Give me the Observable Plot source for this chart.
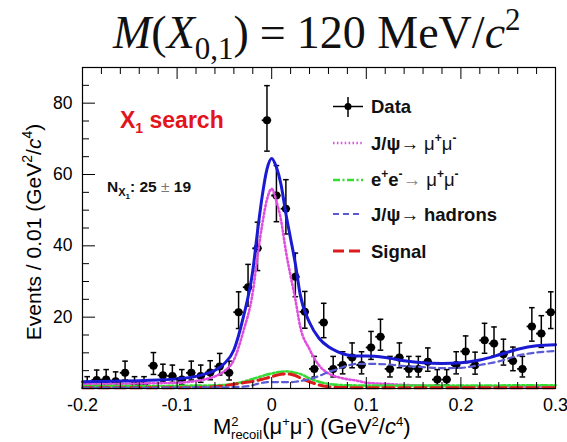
<!DOCTYPE html>
<html><head><meta charset="utf-8">
<script src="https://cdn.jsdelivr.net/npm/d3@7"></script>
<script src="https://cdn.jsdelivr.net/npm/@observablehq/plot@0.6"></script>
<style>
body{margin:0;background:#fff;}
#chart{width:567px;height:442px;}
</style>
</head><body><div id="chart"></div>
<script>
// ---- data ----
const binX = [-0.195,-0.185,-0.175,-0.165,-0.155,-0.145,-0.135,-0.125,-0.115,-0.105,
  -0.095,-0.085,-0.075,-0.065,-0.055,-0.045,-0.035,-0.025,-0.015,-0.005,
  0.005,0.015,0.025,0.035,0.045,0.055,0.065,0.075,0.085,0.095,
  0.105,0.115,0.125,0.135,0.145,0.155,0.165,0.175,0.185,0.195,
  0.205,0.215,0.225,0.235,0.245,0.255,0.265,0.275,0.285,0.295];
const counts = [1,2.4,2.5,2,4.4,1,1,6.4,3.7,3.5,
  2.5,4.4,3.5,4.5,6.2,4.4,21.4,28.4,39.3,75.2,
  54.1,50.4,31.3,21.5,5.5,18.5,5.5,6.6,8.7,6.6,
  11.5,14.5,5.5,8.7,5.5,5.5,7.5,2.5,2.5,6.6,
  10.4,6.5,13.5,12.6,9.6,7.7,5.5,17.4,15.4,21.4];
const binHalfWidth = 0.005;

const curveX = [-0.2,-0.17,-0.14,-0.12,-0.1,-0.08,-0.07,-0.06,-0.05,-0.04,-0.03,-0.02,-0.015,-0.01,-0.005,
  0,0.005,0.01,0.015,0.02,0.025,0.03,0.04,0.05,0.06,0.07,0.08,0.09,0.1,0.12,0.14,0.16,0.18,0.2,0.22,0.24,0.26,0.28,0.3];
const totalFit = [1.9,2.0,2.2,2.4,2.7,3.4,4.1,5.1,7.0,10.8,20,33,44,54,61.5,
  64.5,62,57,49,42,35,26.5,18.5,14.1,11.7,10.3,9.4,9.1,9.1,8.7,7.8,7.2,7.0,7.2,8.0,9.4,11.0,12.0,12.3];
const jpsiMuMu = [1.2,1.3,1.4,1.5,1.6,2.1,2.6,3.4,4.9,8.0,16,27,37,46,53,
  56,52.5,47,38.5,31.5,25,17.5,11,6.5,4.2,3.2,2.6,2.2,1.6,1.3,1.0,0.8,0.7,0.6,0.6,0.6,0.6,0.6,0.6];
const eeMuMu = [0.7,0.7,0.7,0.7,0.75,0.8,0.8,0.9,1.0,1.3,1.9,2.7,3.1,3.5,3.9,
  4.2,4.5,4.7,4.8,4.7,4.4,4.1,2.8,1.9,1.3,1.0,0.9,0.85,0.8,0.8,0.8,0.8,0.8,0.8,0.85,0.85,0.9,0.9,0.9];
const jpsiHadrons = [0.2,0.2,0.2,0.2,0.25,0.3,0.3,0.3,0.3,0.4,0.5,0.9,1.3,1.6,1.8,
  1.8,1.8,1.8,1.8,1.8,1.9,2.1,2.6,3.5,4.6,5.5,6.4,6.9,6.9,6.8,6.3,6.0,5.7,5.8,6.6,7.6,9.2,10.1,10.5];
const signalFit = [0.2,0.2,0.2,0.2,0.2,0.25,0.35,0.5,0.8,1.2,1.6,2.0,2.3,2.6,2.95,
  3.3,3.7,4.0,4.1,4.0,3.6,3.0,1.9,1.0,0.5,0.3,0.25,0.2,0.2,0.2,0.2,0.2,0.2,0.2,0.2,0.2,0.2,0.2,0.2];

const xTicksMajor = [-0.2,-0.1,0,0.1,0.2,0.3];
const xTickLabels = ["-0.2","-0.1","0","0.1","0.2","0.3"];
const xTicksMinor = [-0.18,-0.16,-0.14,-0.12,-0.08,-0.06,-0.04,-0.02,0.02,0.04,0.06,0.08,0.12,0.14,0.16,0.18,0.22,0.24,0.26,0.28];
const yTicksMajor = [0,20,40,60,80];
const yLabelTicks = [20,40,60,80];
const yTicksMinor = [5,10,15,25,30,35,45,50,55,65,70,75,85];

// ---- colours / styles ----
const C = {total:"#1a1ad2", jpsi:"#e04ee0", ee:"#34dc34", had:"#5a5ad4", sig:"#dc1c1c"};
const DASH = {jpsi:"1.5,2.4", ee:"7,2.5,2,2.5", had:"6,4", sig:"11,5"};

// Poisson (Garwood, Gehrels approx) error limits
const points = binX.map((x,i) => {
  const n = counts[i];
  const lo = n * Math.pow(1 - 1/(9*n) - 1/(3*Math.sqrt(n)), 3);
  const hi = n + Math.sqrt(n + 0.75) + 1;
  return {x, n, lo, hi, x1: x - binHalfWidth, x2: x + binHalfWidth};
});

const capSymbol = {draw(ctx, size){ const w = Math.sqrt(size/Math.PI); ctx.moveTo(-w,0); ctx.lineTo(w,0); }};

const svg = Plot.plot({
  width: 567, height: 442,
  marginLeft: 82, marginRight: 12, marginTop: 67, marginBottom: 54,
  x: {domain: [-0.2, 0.3], axis: null},
  y: {domain: [0, 90], axis: null},
  style: {fontFamily: "'Liberation Sans', Arial, sans-serif", background: "white", color: "black", overflow: "visible"},
  marks: [
    // data points
    Plot.ruleX(points, {x: "x", y1: "lo", y2: "hi", stroke: "black", strokeWidth: 1.5}),
    Plot.ruleY(points, {y: "n", x1: "x1", x2: "x2", stroke: "black", strokeWidth: 1.8}),
    Plot.dot(points, {x: "x", y: "hi", symbol: capSymbol, r: 2.8, stroke: "black", strokeWidth: 1.5, fill: "none"}),
    Plot.dot(points, {x: "x", y: "lo", symbol: capSymbol, r: 2.8, stroke: "black", strokeWidth: 1.5, fill: "none"}),
    Plot.dot(points, {x: "x", y: "n", r: 4, fill: "black", stroke: "none"}),
    // fit components
    Plot.line(curveX, {x: curveX, y: jpsiMuMu, curve: "monotone-x", stroke: C.jpsi, strokeWidth: 2.6, strokeDasharray: DASH.jpsi}),
    Plot.line(curveX, {x: curveX, y: eeMuMu, curve: "monotone-x", stroke: C.ee, strokeWidth: 2.6, strokeDasharray: DASH.ee}),
    Plot.line(curveX, {x: curveX, y: signalFit, curve: "monotone-x", stroke: C.sig, strokeWidth: 3, strokeDasharray: DASH.sig}),
    Plot.line(curveX, {x: curveX, y: jpsiHadrons, curve: "monotone-x", stroke: C.had, strokeWidth: 2.2, strokeDasharray: DASH.had}),
    Plot.line(curveX, {x: curveX, y: totalFit, curve: "monotone-x", stroke: C.total, strokeWidth: 3}),
    // frame and inward ticks
    Plot.frame({stroke: "black", strokeWidth: 1.2}),
    Plot.axisX(xTicksMajor, {anchor: "bottom", tickSize: -11, tickFormat: () => ""}),
    Plot.axisX(xTicksMinor, {anchor: "bottom", tickSize: -6, tickFormat: () => ""}),
    Plot.axisX(xTicksMajor, {anchor: "top", tickSize: -11, tickFormat: () => ""}),
    Plot.axisX(xTicksMinor, {anchor: "top", tickSize: -6, tickFormat: () => ""}),
    Plot.axisY(yTicksMajor, {anchor: "left", tickSize: -13, tickFormat: () => ""}),
    Plot.axisY(yTicksMinor, {anchor: "left", tickSize: -7, tickFormat: () => ""}),
    // tick labels
    Plot.axisX(xTicksMajor, {anchor: "bottom", tickSize: 0, tickPadding: 10, fontSize: 18, tickFormat: d => xTickLabels[xTicksMajor.indexOf(d)], label: null}),
    Plot.axisY(yLabelTicks, {anchor: "left", tickSize: 0, tickPadding: 10, fontSize: 17.5, tickFormat: d => String(d), label: null})
  ]
});
document.getElementById("chart").appendChild(svg);

// ---- texts and legend ----
const g = d3.select(svg).append("g").attr("text-anchor", "start");
const sans = "'Liberation Sans', Arial, sans-serif";

// title
const t = g.append("text").attr("x", 113).attr("y", 48)
  .attr("font-family", "'Liberation Serif', 'Times New Roman', serif").attr("font-size", 46).attr("fill", "#111");
t.append("tspan").attr("font-style", "italic").text("M");
t.append("tspan").text("(");
t.append("tspan").attr("font-style", "italic").text("X");
t.append("tspan").attr("font-size", 31).attr("dy", 11).text("0,1");
t.append("tspan").attr("dy", -11).text(")");
t.append("tspan").attr("dx", 11).text("=");
t.append("tspan").attr("dx", 11).text("120 MeV/");
t.append("tspan").attr("font-style", "italic").text("c");
t.append("tspan").attr("font-size", 31).attr("dy", -18).text("2");

// x-axis label (superscript 2 stacked over subscript "recoil")
const xl = g.append("text").attr("x", 213).attr("y", 434).attr("font-family", sans).attr("font-size", 22);
xl.append("tspan").text("M");
xl.append("tspan").attr("font-size", 13).attr("dy", -8).text("2");
xl.append("tspan").attr("font-size", 13).attr("dx", -7.5).attr("dy", 13).text("recoil");
xl.append("tspan").attr("dy", -5).text("(μ");
xl.append("tspan").attr("font-size", 13).attr("dy", -8).text("+");
xl.append("tspan").attr("dy", 8).text("μ");
xl.append("tspan").attr("font-size", 13).attr("dy", -8).text("-");
xl.append("tspan").attr("dy", 8).text(") (GeV");
xl.append("tspan").attr("font-size", 13).attr("dy", -8).text("2");
xl.append("tspan").attr("dy", 8).text("/");
xl.append("tspan").attr("font-style", "italic").text("c");
xl.append("tspan").attr("font-size", 13).attr("dy", -8).text("4");
xl.append("tspan").attr("dy", 8).text(")");

// y-axis label
const yl = g.append("text").attr("transform", "translate(41,232) rotate(-90)").attr("text-anchor", "middle")
  .attr("font-family", sans).attr("font-size", 21);
yl.append("tspan").text("Events / 0.01 (GeV");
yl.append("tspan").attr("font-size", 14).attr("dy", -9).text("2");
yl.append("tspan").attr("dy", 9).text("/");
yl.append("tspan").attr("font-style", "italic").text("c");
yl.append("tspan").attr("font-size", 14).attr("dy", -9).text("4");
yl.append("tspan").attr("dy", 9).text(")");

// X1 search
const xs = g.append("text").attr("x", 120).attr("y", 128).attr("font-family", sans)
  .attr("font-size", 23).attr("font-weight", "bold").attr("fill", "#e3141b");
xs.append("tspan").text("X");
xs.append("tspan").attr("font-size", 14).attr("dy", 5).text("1");
xs.append("tspan").attr("dy", -5).text(" search");

// N_X1
const nx = g.append("text").attr("x", 107).attr("y", 192).attr("font-family", sans)
  .attr("font-size", 15.5).attr("font-weight", "bold").attr("fill", "#111");
nx.append("tspan").text("N");
nx.append("tspan").attr("font-size", 11).attr("dy", 4).text("X");
nx.append("tspan").attr("font-size", 8).attr("dy", 3).text("1");
nx.append("tspan").attr("dy", -7).text(": 25 ");
nx.append("tspan").attr("font-weight", "normal").attr("fill", "#777").text("±");
nx.append("tspan").text(" 19");

// legend
const lx1 = 333, lx2 = 363, tx = 371;
const leg = g.append("g").attr("font-family", sans).attr("font-size", 18.5).attr("font-weight", "bold").attr("fill", "#111");
// Data
leg.append("line").attr("x1", lx1).attr("x2", lx2).attr("y1", 106.5).attr("y2", 106.5).attr("stroke", "black").attr("stroke-width", 1.5);
leg.append("line").attr("x1", 348).attr("x2", 348).attr("y1", 97).attr("y2", 117).attr("stroke", "black").attr("stroke-width", 1.5);
leg.append("circle").attr("cx", 348).attr("cy", 106.5).attr("r", 3.5).attr("fill", "black");
leg.append("text").attr("x", tx).attr("y", 113).text("Data");
// J/psi -> mu mu
leg.append("line").attr("x1", lx1).attr("x2", lx2).attr("y1", 143).attr("y2", 143).attr("stroke", C.jpsi).attr("stroke-width", 2.6).attr("stroke-dasharray", DASH.jpsi);
const l2 = leg.append("text").attr("x", tx).attr("y", 150);
l2.append("tspan").text("J/ψ");
l2.append("tspan").attr("font-weight", "normal").text("→ μ");
l2.append("tspan").attr("font-size", 12).attr("dy", -8).text("+");
l2.append("tspan").attr("font-weight", "normal").attr("dy", 8).text("μ");
l2.append("tspan").attr("font-size", 12).attr("dy", -8).text("-");
// e+e- -> mu mu
leg.append("line").attr("x1", lx1).attr("x2", lx2).attr("y1", 180).attr("y2", 180).attr("stroke", C.ee).attr("stroke-width", 2.6).attr("stroke-dasharray", DASH.ee);
const l3 = leg.append("text").attr("x", tx).attr("y", 186);
l3.append("tspan").text("e");
l3.append("tspan").attr("font-size", 12).attr("dy", -8).text("+");
l3.append("tspan").attr("dy", 8).text("e");
l3.append("tspan").attr("font-size", 12).attr("dy", -8).text("-");
l3.append("tspan").attr("font-weight", "normal").attr("fill", "#888").attr("dy", 8).text("→");
l3.append("tspan").attr("font-weight", "normal").text(" μ");
l3.append("tspan").attr("font-size", 12).attr("dy", -8).text("+");
l3.append("tspan").attr("font-weight", "normal").attr("dy", 8).text("μ");
l3.append("tspan").attr("font-size", 12).attr("dy", -8).text("-");
// J/psi -> hadrons
leg.append("line").attr("x1", lx1).attr("x2", lx2).attr("y1", 214).attr("y2", 214).attr("stroke", C.had).attr("stroke-width", 2.2).attr("stroke-dasharray", DASH.had);
const l4 = leg.append("text").attr("x", tx).attr("y", 221);
l4.append("tspan").text("J/ψ");
l4.append("tspan").attr("font-weight", "normal").text("→");
l4.append("tspan").text(" hadrons");
// Signal
leg.append("line").attr("x1", lx1).attr("x2", lx2).attr("y1", 251).attr("y2", 251).attr("stroke", C.sig).attr("stroke-width", 3).attr("stroke-dasharray", DASH.sig);
leg.append("text").attr("x", tx).attr("y", 258).text("Signal");
</script>
</body></html>
